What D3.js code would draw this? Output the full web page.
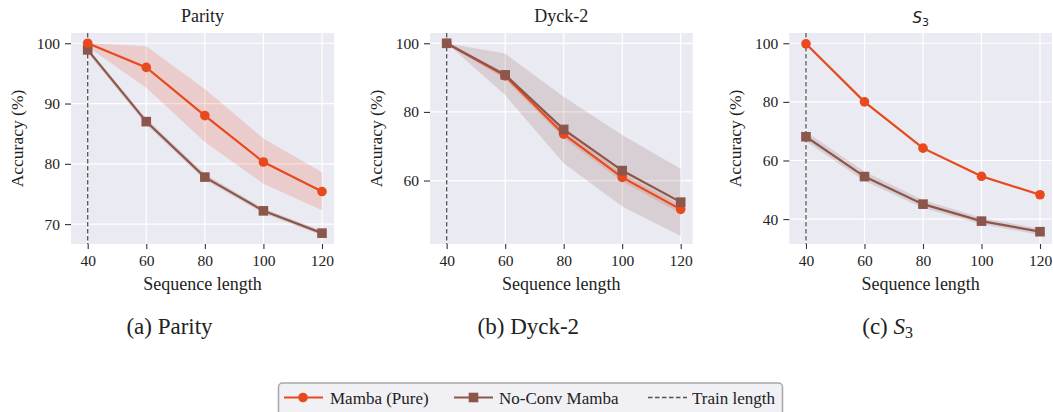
<!DOCTYPE html>
<html>
<head>
<meta charset="utf-8">
<script src="https://cdn.jsdelivr.net/npm/d3@7"></script>
<style>
  body { margin: 0; background: #fff; }
  svg text { font-family: "Liberation Serif", "Times New Roman", Times, "Nimbus Roman", "DejaVu Serif", serif; fill: #222; }
</style>
</head>
<body>
<svg id="chart" width="1053" height="412"></svg>
<script>
// sequence lengths shared by all panels
const seqLen = [40, 60, 80, 100, 120];
const trainLen = 40;

// Parity
const parityMamba   = [100, 96.0, 88.0, 80.3, 75.4];
const parityMambaLo = [99.4, 92.6, 83.6, 76.7, 72.3];
const parityMambaHi = [100, 99.5, 92.4, 84.2, 78.6];
const parityNoConv   = [98.9, 87.0, 77.8, 72.2, 68.5];
const parityNoConvLo = [98.4, 86.5, 77.3, 71.8, 68.1];
const parityNoConvHi = [99.3, 87.5, 78.3, 72.6, 68.9];
const parityTicks = [70, 80, 90, 100];

// Dyck-2
const dyckMamba   = [100, 90.5, 73.5, 60.9, 51.6];
const dyckMambaLo = [99.7, 89.5, 72.3, 59.7, 50.4];
const dyckMambaHi = [100, 91.5, 74.7, 62.1, 52.8];
const dyckNoConv   = [100, 90.8, 74.9, 62.9, 53.7];
const dyckNoConvLo = [100, 84.9, 65.0, 52.4, 43.8];
const dyckNoConvHi = [100, 97.0, 84.4, 73.3, 63.4];
const dyckTicks = [60, 80, 100];

// S3
const s3Mamba   = [99.8, 80.0, 64.2, 54.6, 48.3];
const s3MambaLo = [99.5, 79.6, 63.8, 54.2, 47.9];
const s3MambaHi = [100, 80.4, 64.6, 55.0, 48.7];
const s3NoConv   = [68.1, 54.5, 45.1, 39.3, 35.7];
const s3NoConvLo = [66.5, 53.0, 43.8, 38.2, 34.6];
const s3NoConvHi = [69.8, 56.2, 46.5, 40.5, 36.7];
const s3Ticks = [40, 60, 80, 100];

const orange = "#e8491d";
const brown = "#8c564b";
const serif = "'Liberation Serif', 'Times New Roman', Times, 'Nimbus Roman', 'DejaVu Serif', serif";

const svg = d3.select("#chart");

const panels = [
  { title: "Parity", caption: "(a) Parity", left: 71, right: 334, yDom: [66.7, 101.7], yTicks: parityTicks,
    mamba: [parityMamba, parityMambaLo, parityMambaHi], noconv: [parityNoConv, parityNoConvLo, parityNoConvHi] },
  { title: "Dyck-2", caption: "(b) Dyck-2", left: 430, right: 692.7, yDom: [41.5, 103], yTicks: dyckTicks,
    mamba: [dyckMamba, dyckMambaLo, dyckMambaHi], noconv: [dyckNoConv, dyckNoConvLo, dyckNoConvHi] },
  { title: "S3", caption: "(c) S3", left: 789.3, right: 1052, yDom: [31.5, 103.5], yTicks: s3Ticks,
    mamba: [s3Mamba, s3MambaLo, s3MambaHi], noconv: [s3NoConv, s3NoConvLo, s3NoConvHi] }
];

const plotTop = 33, plotBottom = 244;

panels.forEach((p, i) => {
  const x = d3.scaleLinear().domain([34.3, 124.1]).range([p.left, p.right]);
  const y = d3.scaleLinear().domain(p.yDom).range([plotBottom, plotTop]);
  const g = svg.append("g");

  g.append("rect")
    .attr("x", p.left).attr("y", plotTop)
    .attr("width", p.right - p.left).attr("height", plotBottom - plotTop)
    .attr("fill", "#eaeaf2");

  // grid
  g.selectAll(".vg").data(seqLen).join("line")
    .attr("x1", d => x(d)).attr("x2", d => x(d))
    .attr("y1", plotTop).attr("y2", plotBottom)
    .attr("stroke", "#fff").attr("stroke-width", 1.2);
  g.selectAll(".hg").data(p.yTicks).join("line")
    .attr("x1", p.left).attr("x2", p.right)
    .attr("y1", d => y(d)).attr("y2", d => y(d))
    .attr("stroke", "#fff").attr("stroke-width", 1.2);

  // axes
  const xAxis = g.append("g")
    .attr("transform", `translate(0,${plotBottom})`)
    .call(d3.axisBottom(x).tickValues(seqLen).tickSize(5).tickPadding(6));
  const yAxis = g.append("g")
    .attr("transform", `translate(${p.left},0)`)
    .call(d3.axisLeft(y).tickValues(p.yTicks).tickSize(6).tickPadding(5));
  [xAxis, yAxis].forEach(a => {
    a.attr("font-family", null);
    a.select(".domain").remove();
    a.selectAll(".tick line").attr("stroke", "#333").attr("stroke-width", 1.1);
    a.selectAll(".tick text").attr("font-size", 15.5).style("font-family", serif).attr("fill", "#222");
  });

  // title
  const cx = (p.left + p.right) / 2;
  if (p.title === "S3") {
    const t = g.append("text").attr("x", cx).attr("y", 23).attr("text-anchor", "middle")
      .attr("font-size", 15).style("font-family", "'DejaVu Sans', sans-serif");
    t.append("tspan").attr("font-style", "italic").text("S");
    t.append("tspan").attr("font-size", 11).attr("dy", 3).text("3");
  } else {
    g.append("text").attr("x", cx).attr("y", 22).attr("text-anchor", "middle")
      .attr("font-size", 18).text(p.title);
  }

  // axis labels
  g.append("text").attr("x", cx).attr("y", 290).attr("text-anchor", "middle")
    .attr("font-size", 18).text("Sequence length");
  g.append("text")
    .attr("transform", `translate(${p.left - 48},${(plotTop + plotBottom) / 2}) rotate(-90)`)
    .attr("text-anchor", "middle").attr("font-size", 17.5).text("Accuracy (%)");

  // caption
  const capX = cx - 33;
  if (p.title === "S3") {
    const c = g.append("text").attr("x", capX).attr("y", 334).attr("text-anchor", "middle").attr("font-size", 23);
    c.append("tspan").text("(c) ");
    c.append("tspan").attr("font-style", "italic").text("S");
    c.append("tspan").attr("font-size", 16).attr("dy", 4).text("3");
  } else {
    g.append("text").attr("x", capX).attr("y", 334).attr("text-anchor", "middle")
      .attr("font-size", 23).text(p.caption);
  }

  // train length line
  g.append("line")
    .attr("x1", x(trainLen)).attr("x2", x(trainLen))
    .attr("y1", plotTop).attr("y2", plotBottom)
    .attr("stroke", "#555").attr("stroke-width", 1.3).attr("stroke-dasharray", "4.5,2.5");

  const series = [
    { vals: p.mamba, color: orange, shape: "circle" },
    { vals: p.noconv, color: brown, shape: "square" }
  ];

  // bands first
  series.forEach(s => {
    const rows = seqLen.map((d, k) => ({ x: d, lo: s.vals[1][k], hi: s.vals[2][k] }));
    g.append("path").datum(rows)
      .attr("d", d3.area().x(d => x(d.x)).y0(d => y(d.lo)).y1(d => y(d.hi)))
      .attr("fill", s.color).attr("fill-opacity", 0.18);
  });

  // lines and markers (mamba drawn under no-conv in Dyck)
  const order = i === 1 ? series : series.slice().reverse();
  order.forEach(s => {
    const rows = seqLen.map((d, k) => ({ x: d, v: s.vals[0][k] }));
    g.append("path").datum(rows)
      .attr("d", d3.line().x(d => x(d.x)).y(d => y(d.v)))
      .attr("fill", "none").attr("stroke", s.color).attr("stroke-width", 2.2);
    if (s.shape === "circle") {
      g.selectAll(null).data(rows).join("circle")
        .attr("cx", d => x(d.x)).attr("cy", d => y(d.v)).attr("r", 4.8)
        .attr("fill", s.color);
    } else {
      g.selectAll(null).data(rows).join("rect")
        .attr("x", d => x(d.x) - 4.8).attr("y", d => y(d.v) - 4.8)
        .attr("width", 9.6).attr("height", 9.6)
        .attr("fill", s.color);
    }
  });
});

// legend
const lg = svg.append("g");
lg.append("rect").attr("x", 278.5).attr("y", 383).attr("width", 504).attr("height", 40)
  .attr("rx", 4).attr("fill", "#f0f0f5").attr("stroke", "#a8a8a8").attr("stroke-width", 1.5);
const ly = 397.5;
lg.append("line").attr("x1", 284).attr("x2", 323).attr("y1", ly).attr("y2", ly)
  .attr("stroke", orange).attr("stroke-width", 2.2);
lg.append("circle").attr("cx", 303).attr("cy", ly).attr("r", 4.8).attr("fill", orange);
lg.append("text").attr("x", 330).attr("y", ly + 6).attr("font-size", 17).text("Mamba (Pure)");
lg.append("line").attr("x1", 454).attr("x2", 493).attr("y1", ly).attr("y2", ly)
  .attr("stroke", brown).attr("stroke-width", 2.2);
lg.append("rect").attr("x", 473.5 - 4.8).attr("y", ly - 4.8).attr("width", 9.6).attr("height", 9.6).attr("fill", brown);
lg.append("text").attr("x", 499).attr("y", ly + 6).attr("font-size", 17).text("No-Conv Mamba");
lg.append("line").attr("x1", 648).attr("x2", 687).attr("y1", ly).attr("y2", ly)
  .attr("stroke", "#555").attr("stroke-width", 1.3).attr("stroke-dasharray", "4.5,2.5");
lg.append("text").attr("x", 692).attr("y", ly + 6).attr("font-size", 17).text("Train length");
</script>
</body>
</html>
